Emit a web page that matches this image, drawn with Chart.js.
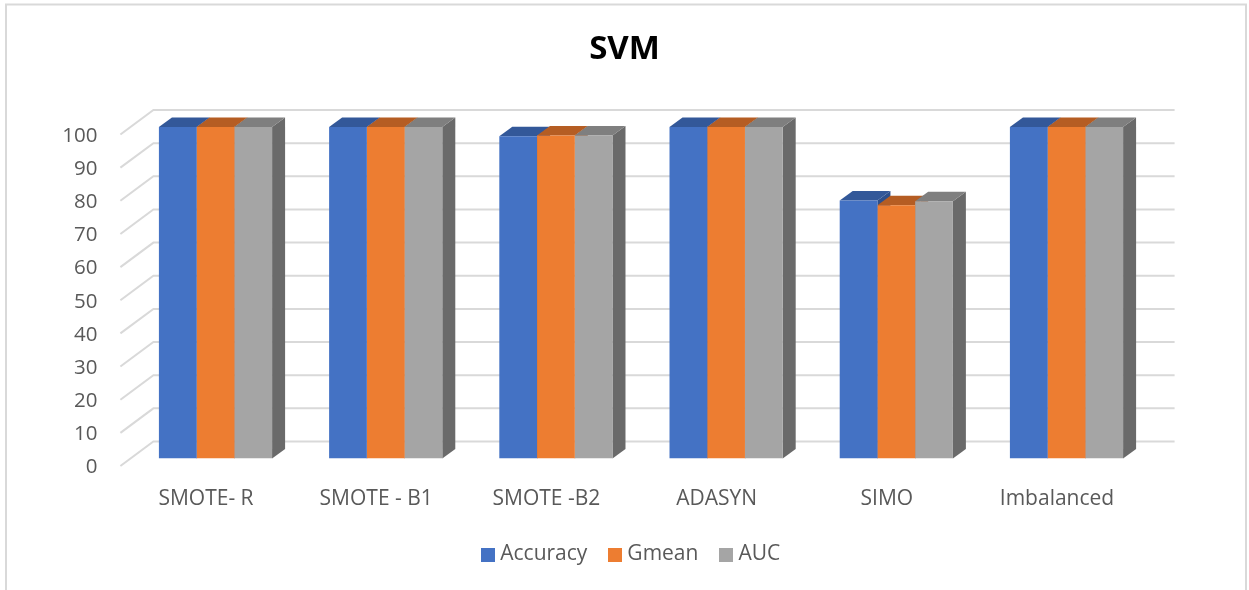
<!DOCTYPE html>
<html>
<head>
<meta charset="utf-8">
<style>html,body{margin:0;padding:0;background:#fff}canvas{display:block}</style>
<script src="https://cdn.jsdelivr.net/npm/chart.js@4"></script>
</head>
<body>
<canvas id="c" width="1249" height="590"></canvas>
<script>
const categories = ["SMOTE- R", "SMOTE - B1", "SMOTE -B2", "ADASYN", "SIMO", "Imbalanced"];
const accuracy = [100, 100, 97.2, 100, 77.8, 100];
const gmean = [100, 100, 97.4, 100, 76.4, 100];
const auc = [100, 100, 97.4, 100, 77.6, 100];
const frontColors = ["#4472C4", "#ED7D31", "#A5A5A5"];
const topColors = ["#335899", "#B55D23", "#7F7F7F"];
const sideColors = ["#2C4F8C", "#A34F1B", "#6A6A6A"];
const FONT = '"Open Sans", sans-serif';

function swatch(color) {
  const s = document.createElement('canvas');
  s.width = 14; s.height = 14;
  const g = s.getContext('2d');
  g.fillStyle = color; g.fillRect(0, 0, 14, 14);
  return s;
}

const poly = (ctx, pts, color) => {
  ctx.fillStyle = color;
  ctx.beginPath();
  pts.forEach((p, i) => i ? ctx.lineTo(p[0], p[1]) : ctx.moveTo(p[0], p[1]));
  ctx.closePath();
  ctx.fill();
};

const frame3d = {
  id: 'frame3d',
  afterLayout(chart) {
    chart.legend.left += 8.5;
    chart.legend.right += 8.5;
  },
  beforeDraw(chart) {
    const ctx = chart.ctx;
    ctx.save();
    ctx.fillStyle = '#fff';
    ctx.fillRect(0, 0, chart.width, chart.height);
    ctx.strokeStyle = '#D9D9D9';
    ctx.lineWidth = 2;
    ctx.beginPath();
    ctx.moveTo(6, 590); ctx.lineTo(6, 4.5); ctx.lineTo(1246, 4.5); ctx.lineTo(1246, 590);
    ctx.stroke();
    ctx.restore();
  },
  beforeDatasetsDraw(chart) {
    const ctx = chart.ctx, ys = chart.scales.y, a = chart.chartArea;
    ctx.save();
    ctx.strokeStyle = '#D9D9D9';
    ctx.lineWidth = 2;
    ys.ticks.forEach(t => {
      const y = ys.getPixelForValue(t.value);
      ctx.beginPath();
      ctx.moveTo(a.left - 10, y + 7.5);
      ctx.lineTo(a.left + 23, y - 17);
      ctx.lineTo(a.right + 23, y - 17);
      ctx.stroke();
    });
    const dx = 13, dy = 9.5;
    chart.data.datasets.forEach((ds, d) => {
      chart.getDatasetMeta(d).data.forEach(b => {
        const l = b.x - b.width / 2, r = b.x + b.width / 2;
        poly(ctx, [[r, b.y], [r + dx, b.y - dy], [r + dx, b.base - dy], [r, b.base]], sideColors[d]);
        poly(ctx, [[l, b.y], [l + dx, b.y - dy], [r + dx, b.y - dy], [r, b.y]], topColors[d]);
      });
    });
    ctx.restore();
  }
};

const seriesNames = ["Accuracy", "Gmean", "AUC"];
const seriesValues = [accuracy, gmean, auc];

new Chart(document.getElementById('c'), {
  type: 'bar',
  data: {
    labels: categories,
    datasets: seriesNames.map((n, i) => ({
      label: n,
      data: seriesValues[i],
      backgroundColor: frontColors[i],
      borderWidth: 0,
      categoryPercentage: 0.665,
      barPercentage: 1
    }))
  },
  plugins: [frame3d],
  options: {
    responsive: false,
    animation: false,
    devicePixelRatio: 1,
    layout: { padding: { left: 0, right: 0, top: 0, bottom: 15 } },
    plugins: {
      tooltip: { enabled: false },
      title: {
        display: true,
        text: 'SVM',
        color: '#000000',
        font: { family: FONT, size: 33, weight: 'bold' },
        padding: { top: 29.5, bottom: 57.9 }
      },
      legend: {
        display: true,
        position: 'bottom',
        labels: {
          color: '#595959',
          font: { family: FONT, size: 21 },
          usePointStyle: true,
          pointStyleWidth: 4,
          boxHeight: 14,
          padding: 25.5,
          generateLabels(chart) {
            return Chart.defaults.plugins.legend.labels.generateLabels(chart).map((it, i) => {
              it.pointStyle = swatch(frontColors[i]);
              return it;
            });
          }
        }
      }
    },
    scales: {
      x: {
        grid: { display: false },
        border: { display: false },
        afterFit(s) { s.height = 590 - 458.5 - s.chart.legend.height - 15; },
        ticks: {
          color: '#595959',
          font: { family: FONT, size: 21 },
          padding: 20,
          labelOffset: -9.5,
          maxRotation: 0,
          autoSkip: false
        }
      },
      y: {
        min: 0,
        max: 100,
        grid: { display: false },
        border: { display: false },
        afterFit(s) { s.width = 130.4; },
        ticks: {
          stepSize: 10,
          color: '#595959',
          font: { family: FONT, size: 20.5 },
          padding: 25,
          labelOffset: 9
        }
      },
      yRight: {
        axis: 'y',
        position: 'right',
        min: 0,
        max: 100,
        grid: { display: false },
        border: { display: false },
        ticks: { display: false },
        afterFit(s) { s.width = 97.4; }
      }
    }
  }
});
</script>
</body>
</html>
